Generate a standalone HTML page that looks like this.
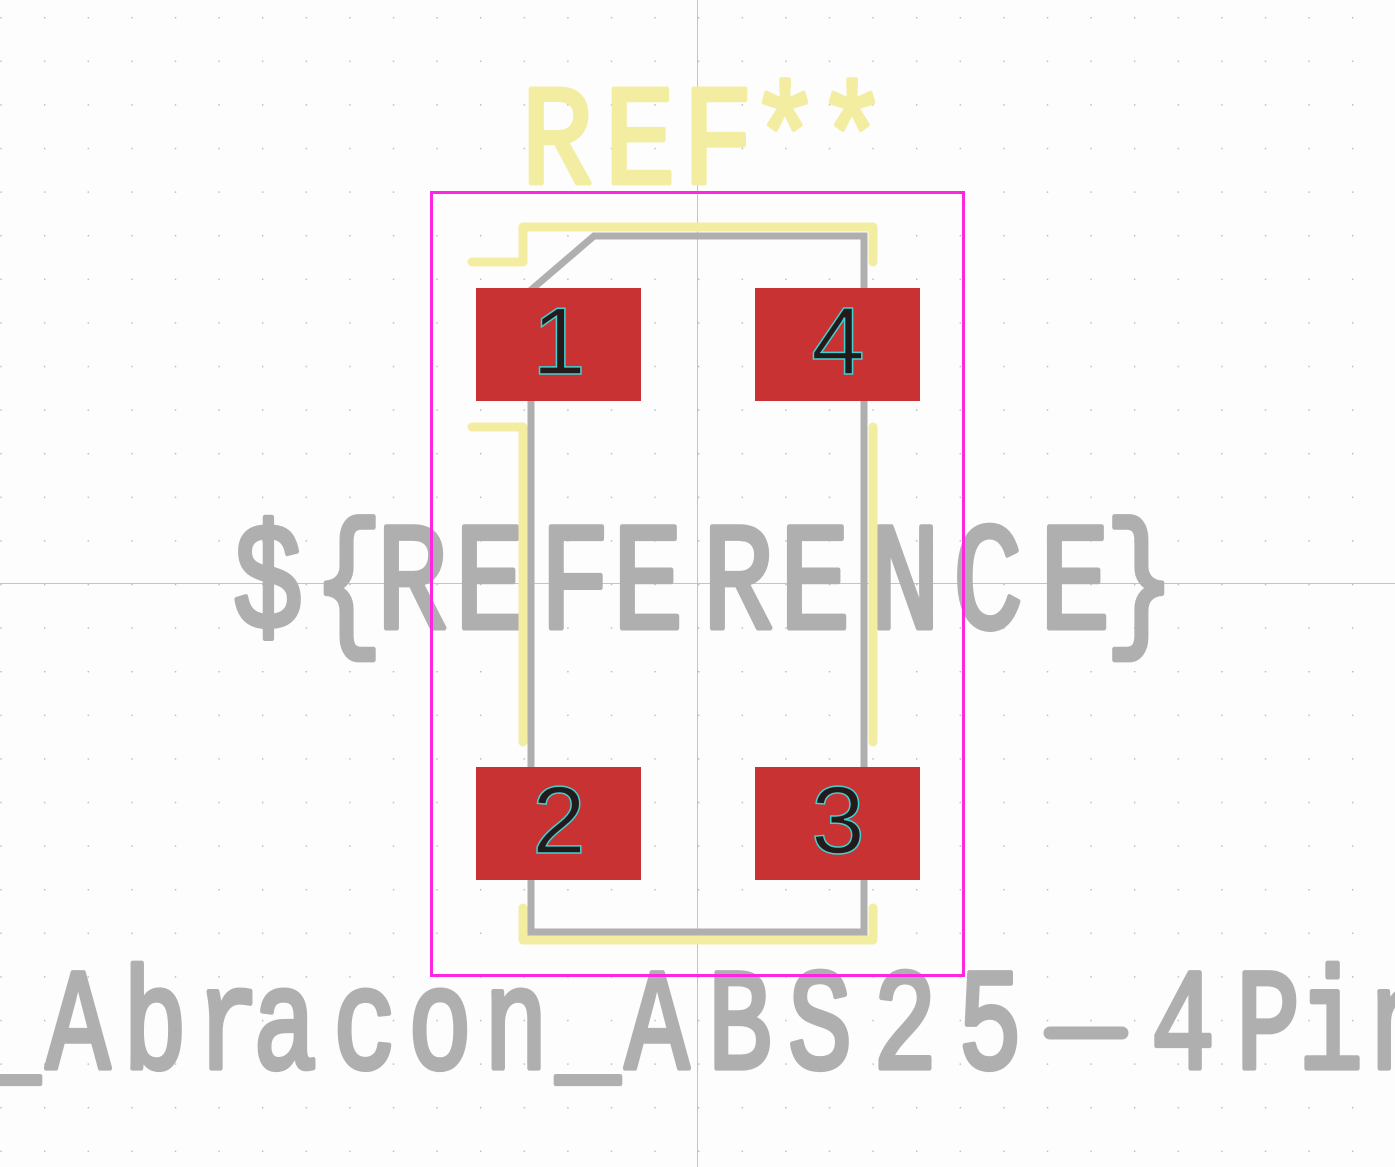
<!DOCTYPE html>
<html><head><meta charset="utf-8"><style>
html,body{margin:0;padding:0;background:#fdfdfd;overflow:hidden}
svg{display:block}
</style></head><body>
<svg width="1395" height="1167" viewBox="0 0 1395 1167" xmlns="http://www.w3.org/2000/svg">
<defs>
<pattern id="g" x="0.4" y="17" width="43.6" height="43.6" patternUnits="userSpaceOnUse">
<rect x="0" y="0" width="1.4" height="1.4" fill="#b8b8b8"/>
</pattern>
</defs>
<rect width="1395" height="1167" fill="#fdfdfd"/>
<rect width="1395" height="1167" fill="url(#g)"/>
<line x1="697.5" y1="0" x2="697.5" y2="1167" stroke="#c4c4c4" stroke-width="1"/>
<line x1="0" y1="583.5" x2="1395" y2="583.5" stroke="#c4c4c4" stroke-width="1"/>

<g font-family="'Liberation Mono', monospace" fill="#afafaf" stroke="#afafaf" stroke-linejoin="round" stroke-width="4" text-anchor="middle">
<text transform="scale(1,1.3)" x="268 348 412 490 575 648 738 815 905 988 1075 1140" y="483" font-size="118">${REFERENCE}</text>
<text transform="scale(1,1.35)" x="8 78 155 228 285 365 440 516 588 657 740 820 905 990" y="791.1" font-size="107">_Abracon_ABS25</text>
<text transform="scale(1,1.35)" x="1183 1268 1331 1402" y="791.1" font-size="107">4Pin</text>
</g>
<line x1="1050" y1="1033" x2="1122" y2="1033" stroke="#afafaf" stroke-width="13" stroke-linecap="round"/>

<!-- fab outline -->
<path d="M594 236 L864 236 L864 932 L531 932 L531 290 Z" fill="none" stroke="#afafaf" stroke-width="7"/>
<!-- silk -->
<g fill="none" stroke="#f2eda1" stroke-width="9" stroke-linecap="round" stroke-linejoin="round">
<path d="M472 262 L523 262 L523 227 L873 227 L873 262"/>
<path d="M472 427 L523 427 L523 742"/>
<path d="M873 427 L873 742"/>
<path d="M523 908 L523 940 L873 940 L873 908"/>
</g>

<text transform="scale(1,1.2)" x="557 640 718 785 852" y="152.5" text-anchor="middle" font-family="'Liberation Mono', monospace" font-size="119" fill="#f2eda1" stroke="#f2eda1" stroke-width="4" stroke-linejoin="round">REF**</text>

<g fill="#c83232">
<rect x="476" y="288" width="165" height="113"/>
<rect x="755" y="288" width="165" height="113"/>
<rect x="476" y="767" width="165" height="113"/>
<rect x="755" y="767" width="165" height="113"/>
</g>
<g font-family="'Liberation Sans', sans-serif" font-size="96" fill="#231b1b" stroke="#40d0d0" stroke-width="1.5" text-anchor="middle">
<text x="559" y="374">1</text>
<text x="838" y="374">4</text>
<text x="559" y="853">2</text>
<text x="838" y="853">3</text>
</g>

<rect x="431.5" y="192.5" width="532" height="783" fill="none" stroke="#ff26e2" stroke-width="3"/>
</svg>
</body></html>
